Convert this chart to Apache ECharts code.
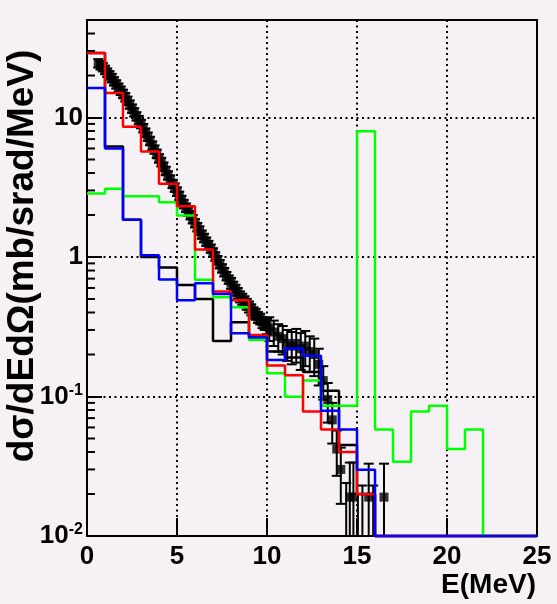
<!DOCTYPE html>
<html><head><meta charset="utf-8">
<script src="https://cdn.jsdelivr.net/npm/echarts@6/dist/echarts.min.js"></script>
<style>html,body{margin:0;padding:0;background:#f5f1f5}#c{width:557px;height:604px}</style>
</head><body><div id="c"></div>
<script>
// ---- data ----
const binEdges = [0,1,2,3,4,5,6,7,8,9,10,11,12,13,14,15,16,17,18,19,20,21,22,23,24,25];
const greenHist = [2.85,3.08,2.73,2.73,2.47,1.98,0.686,0.514,0.436,0.254,0.147,0.0995,0.13,0.086,0.086,7.98,0.058,0.034,0.078,0.086,0.042,0.058,0.01,0.01,0.01];
const redHist   = [29,15,8.6,5.7,3.35,2.31,1.13,0.565,0.49,0.276,0.167,0.142,0.078,0.058,0.040,0.0199,0.01,0.01,0.01,0.01,0.01,0.01,0.01,0.01,0.01];
const blueHist  = [16.3,6.0,1.85,1.03,0.69,0.49,0.648,0.543,0.284,0.265,0.183,0.221,0.196,0.079,0.058,0.0298,0.01,0.01,0.01,0.01,0.01,0.01,0.01,0.01,0.01];
const blackHist = [29,6.2,1.85,1.0,0.84,0.63,0.5,0.25,0.34,0.27,0.21,0.19,0.15,0.11,0.045,0.02,0.01,0.01,0.01,0.01,0.01,0.01,0.01,0.01,0.01];

const expE = [0.625,0.75,0.875,1.0,1.125,1.25,1.375,1.5,1.625,1.75,1.875,2.0,2.125,2.25,2.375,2.5,2.625,2.75,2.875,3.0,
  3.125,3.25,3.375,3.5,3.625,3.75,3.875,4.0,4.125,4.25,4.375,4.5,4.625,4.75,4.875,5.0,
  5.125,5.25,5.375,5.5,5.625,5.75,5.875,6.0,6.125,6.25,6.375,6.5,6.625,6.75,6.875,7.0,
  7.125,7.25,7.375,7.5,7.625,7.75,7.875,8.0,8.125,8.25,8.375,8.5,8.625,8.75,8.875,9.0,
  9.125,9.25,9.375,9.5,9.625,9.75,9.875,10.0,10.125,
  10.375,10.625,10.875,11.125,11.375,11.625,11.875,12.125,12.375,12.625,12.875,
  13.125,13.375,13.625,13.875,
  14.1,14.4,14.6,14.8,15.05,15.3,15.65,15.9,16.5];
const expV = [24.5,23.7,23,22,21,20.1,19.2,18.2,17.3,16.4,15.6,14.8,14.0,13.2,12.4,11.6,10.9,10.2,9.6,9.0,
  8.4,7.8,7.3,6.8,6.3,5.9,5.5,5.1,4.8,4.45,4.15,3.85,3.6,3.35,3.15,2.95,
  2.75,2.57,2.4,2.26,2.12,2.0,1.87,1.75,1.64,1.55,1.45,1.37,1.29,1.22,1.15,1.08,
  1.01,0.95,0.89,0.83,0.78,0.73,0.69,0.65,0.61,0.58,0.55,0.52,0.5,0.48,0.46,0.44,
  0.42,0.40,0.39,0.37,0.36,0.34,0.33,0.32,0.31,
  0.29,0.27,0.26,0.24,0.23,0.24,0.22,0.23,0.21,0.2,0.17,
  0.13,0.095,0.068,0.042,
  0.03,0.007,0.019,0.019,0.006,0.007,0.019,0.007,0.019];
const expErr = [1.7,1.65,1.6,1.55,1.5,1.4,1.35,1.27,1.2,1.15,1.1,1.04,0.98,0.92,0.87,0.81,0.76,0.71,0.67,0.63,
  0.59,0.55,0.51,0.48,0.44,0.41,0.39,0.36,0.34,0.31,0.29,0.27,0.25,0.23,0.22,0.21,
  0.19,0.18,0.17,0.16,0.15,0.14,0.13,0.12,0.115,0.11,0.1,0.096,0.09,0.085,0.08,0.076,
  0.071,0.067,0.062,0.058,0.055,0.051,0.048,0.058,0.055,0.052,0.05,0.047,0.045,0.043,0.041,0.04,
  0.038,0.036,0.035,0.033,0.032,0.031,0.03,0.04,0.06,
  0.06,0.06,0.06,0.06,0.06,0.065,0.065,0.065,0.06,0.06,0.05,
  0.035,0.03,0.022,0.015,
  0.013,0.017,0.0146,0.0146,0.014,0.016,0.014,0.016,0.014];

const yMinorTicks = [0.02,0.03,0.04,0.05,0.06,0.07,0.08,0.09,0.2,0.3,0.4,0.5,0.6,0.7,0.8,0.9,2,3,4,5,6,7,8,9,20,30,40];
const yTitle = 'dσ/dEdΩ(mb/srad/MeV)';
const xTitle = 'E(MeV)';

// ---- chart ----
const FONT = '"Liberation Sans", Arial, Helvetica, sans-serif';
const BG = '#f5f1f5';
const chart = echarts.init(document.getElementById('c'));

function histData(vals) {
  const d = vals.map((v, i) => [binEdges[i], v]);
  d.push([binEdges[binEdges.length - 1], vals[vals.length - 1]]);
  return d;
}
function histSeries(vals, color, z) {
  return {type: 'line', step: 'end', symbol: 'none', clip: false, z: z, silent: true,
    data: histData(vals), lineStyle: {color: color, width: 2.5}};
}
const dotted = {color: '#000', type: [2, 3.5], width: 2};

chart.setOption({
  backgroundColor: BG,
  animation: false,
  grid: {left: 87, right: 20, top: 20, bottom: 68, show: true, borderColor: '#000', borderWidth: 2, backgroundColor: BG},
  xAxis: {
    type: 'value', min: 0, max: 25, interval: 5,
    axisLine: {show: true, lineStyle: {color: '#000', width: 2}},
    axisTick: {show: true, inside: true, length: 18, lineStyle: {color: '#000', width: 2}},
    axisLabel: {margin: 8, color: '#000', fontFamily: FONT, fontWeight: 'bold', fontSize: 26},
    splitLine: {show: true, lineStyle: dotted}
  },
  yAxis: {
    type: 'log', logBase: 10, min: 0.01, max: 50, splitNumber: 4,
    axisLine: {show: true, lineStyle: {color: '#000', width: 2}},
    axisTick: {show: true, inside: true, length: 15, lineStyle: {color: '#000', width: 2}},
    axisLabel: {
      margin: 4, color: '#000',
      formatter: function (v) {
        const l = Math.log10(v), r = Math.round(l);
        if (Math.abs(l - r) > 1e-6) return '';
        if (r === 0) return '{a|1}';
        if (r === 1) return '{a|10}';
        return '{a|10}{s|' + r + '}';
      },
      rich: {
        a: {fontFamily: FONT, fontWeight: 'bold', fontSize: 26, lineHeight: 28, color: '#000'},
        s: {fontFamily: FONT, fontWeight: 'bold', fontSize: 16, lineHeight: 16, verticalAlign: 'top', color: '#000'}
      }
    },
    splitLine: {show: true, lineStyle: dotted}
  },
  graphic: [
    {type: 'text', x: 23, y: 256, rotation: Math.PI / 2, z: 100,
      style: {text: yTitle, fontFamily: FONT, fontWeight: 'bold', fontSize: 37, fill: '#000', align: 'center', verticalAlign: 'middle'}},
    {type: 'text', x: 536, y: 585, z: 100,
      style: {text: xTitle, fontFamily: FONT, fontWeight: 'bold', fontSize: 28, fill: '#000', align: 'right', verticalAlign: 'middle'}}
  ],
  series: [
    {
      type: 'custom', z: 3, clip: true, silent: true,
      data: expE.map((e, i) => [e, expV[i], Math.max(expV[i] - expErr[i], 1e-4), expV[i] + expErr[i]]),
      encode: {x: 0, y: 1},
      renderItem: function (params, api) {
        const x = api.value(0);
        const pLo = api.coord([x, api.value(2)]);
        const pHi = api.coord([x, api.value(3)]);
        const w = 5, st = {stroke: '#000', lineWidth: 2};
        return {type: 'group', children: [
          {type: 'line', shape: {x1: pLo[0], y1: pLo[1], x2: pHi[0], y2: pHi[1]}, style: st},
          {type: 'line', shape: {x1: pHi[0] - w, y1: pHi[1], x2: pHi[0] + w, y2: pHi[1]}, style: st},
          {type: 'line', shape: {x1: pLo[0] - w, y1: pLo[1], x2: pLo[0] + w, y2: pLo[1]}, style: st}
        ]};
      }
    },
    {type: 'scatter', symbol: 'rect', symbolSize: 9, clip: true, z: 4, silent: true,
      itemStyle: {color: '#000'}, data: expE.map((e, i) => [e, expV[i]])},
    histSeries(blackHist, '#000000', 5),
    histSeries(greenHist, '#00ff00', 6),
    histSeries(redHist, '#ff0000', 7),
    histSeries(blueHist, '#0000ff', 8),
    {
      type: 'custom', z: 9, silent: true,
      data: yMinorTicks.map(v => [0, v]),
      encode: {x: 0, y: 1},
      renderItem: function (params, api) {
        const c = api.coord([0, api.value(1)]);
        return {type: 'line', shape: {x1: c[0], y1: c[1], x2: c[0] + 8, y2: c[1]}, style: {stroke: '#000', lineWidth: 2}};
      }
    }
  ]
});
</script>
</body></html>
